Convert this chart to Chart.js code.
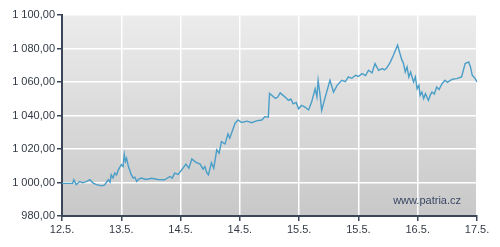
<!DOCTYPE html>
<html>
<head>
<meta charset="utf-8">
<script src="https://cdn.jsdelivr.net/npm/chart.js@4"></script>
<style>
  html, body { margin: 0; padding: 0; background: #fff; }
  #wrap { width: 500px; height: 247px; }
</style>
</head>
<body>
<div id="wrap"><canvas id="chart"></canvas></div>
<script>
// x = days since start of 12.5.
const days = [0, 0.18, 0.20, 0.24, 0.30, 0.35, 0.41, 0.47, 0.52, 0.58, 0.67, 0.72, 0.78, 0.81, 0.83, 0.86,
    0.89, 0.92, 0.95, 1.00, 1.03, 1.05, 1.07, 1.09, 1.12, 1.14, 1.17, 1.20, 1.23, 1.26, 1.30, 1.34, 1.42,
    1.51, 1.62, 1.73, 1.82, 1.86, 1.90, 1.96, 2.02, 2.09, 2.14, 2.19, 2.26, 2.33, 2.38, 2.41, 2.44, 2.47,
    2.52, 2.56, 2.61, 2.65, 2.69, 2.75, 2.80, 2.83, 2.88, 2.92, 2.97, 3.03, 3.12, 3.20, 3.28, 3.37, 3.42,
    3.48, 3.50, 3.54, 3.60, 3.64, 3.68, 3.73, 3.78, 3.82, 3.86, 3.90, 3.95, 3.99, 4.04, 4.10, 4.16, 4.21,
    4.27, 4.30, 4.32, 4.35, 4.38, 4.44, 4.52, 4.58, 4.64, 4.72, 4.78, 4.83, 4.89, 4.95, 5.00, 5.06, 5.12,
    5.17, 5.23, 5.28, 5.34, 5.40, 5.44, 5.48, 5.54, 5.59, 5.66, 5.70, 5.73, 5.76, 5.79, 5.82, 5.85, 5.88,
    5.93, 5.96, 5.99, 6.02, 6.04, 6.07, 6.10, 6.13, 6.18, 6.21, 6.24, 6.28, 6.32, 6.36, 6.41, 6.46, 6.50,
    6.55, 6.60, 6.66, 6.74, 6.80, 6.86, 6.89, 6.92, 6.97, 7.00];
const values = [999.5, 999.5, 1001.6, 998.7, 1000.6, 999.8, 1000.5, 1001.7, 999.8, 998.7, 998, 998.5,
    1001.6, 1000.2, 1004.6, 1002.8, 1005.6, 1004.5, 1007.6, 1010.6, 1009.5, 1016.8, 1012.5, 1014.5, 1009.5,
    1007.6, 1004.5, 1002.7, 1003.2, 1000.6, 1002.2, 1002.7, 1001.8, 1002.5, 1001.8, 1001.6, 1003.6, 1002.6,
    1005.6, 1004.8, 1007.6, 1011, 1008.5, 1014, 1012, 1011, 1008, 1009.5, 1006, 1004.6, 1011.8, 1008.5,
    1019.5, 1017.5, 1024.4, 1023, 1029, 1026.5, 1031.5, 1035.4, 1037.3, 1035.8, 1036.6, 1035.7, 1036.8,
    1037.3, 1039.3, 1039, 1053.2, 1052, 1050.2, 1051, 1053.5, 1052, 1050.5, 1049, 1049.8, 1047, 1047.8,
    1044, 1046, 1045, 1043.3, 1048, 1056, 1051, 1061, 1053, 1043, 1051, 1061, 1054, 1058, 1061, 1060.2,
    1063, 1062.2, 1064, 1063.3, 1065, 1063.8, 1067, 1065.5, 1071, 1067, 1068, 1067.2, 1068.5, 1072, 1076,
    1082, 1077, 1073.5, 1071, 1066, 1069, 1063, 1066, 1060, 1063, 1056, 1058, 1052, 1054, 1050, 1053, 1049,
    1052, 1054, 1052.8, 1057, 1055.5, 1059, 1061, 1059.8, 1061, 1061.8, 1062, 1063, 1071, 1072, 1069,
    1064, 1062, 1060];
const xTickLabels = ["12.5.", "13.5.", "14.5.", "14.5.", "15.5.", "15.5.", "16.5.", "17.5."];
const watermark = "www.patria.cz";

const axisColor = "#3b4759";
const font = { family: "'Liberation Sans', Arial, sans-serif", size: 11 };

const plotBackground = {
    id: "plotBackground",
    beforeDraw(chart) {
        const { ctx, chartArea: a } = chart;
        const g = ctx.createLinearGradient(0, a.top, 0, a.bottom);
        g.addColorStop(0, "#ececec");
        g.addColorStop(1, "#c8c8c8");
        ctx.save();
        ctx.fillStyle = g;
        ctx.fillRect(a.left, a.top, a.right - a.left, a.bottom - a.top);
        ctx.restore();
    },
    afterDatasetsDraw(chart) {
        const { ctx, chartArea: a } = chart;
        ctx.save();
        ctx.font = "11px " + font.family;
        ctx.fillStyle = "#3a4766";
        ctx.textAlign = "right";
        ctx.textBaseline = "middle";
        ctx.fillText(watermark, a.right - 16, a.bottom - 15);
        ctx.restore();
    }
};

const fmt = v => {
    const s = v.toFixed(2).replace(".", ",");
    const [i, d] = s.split(",");
    return i.replace(/\B(?=(\d{3})+(?!\d))/g, " ") + "," + d;
};

new Chart(document.getElementById("chart"), {
    type: "line",
    data: {
        datasets: [{
            data: days.map((d, i) => ({ x: d, y: values[i] })),
            borderColor: "#4a9ec8",
            borderWidth: 1.4,
            pointRadius: 0,
            tension: 0,
            fill: false
        }]
    },
    options: {
        responsive: true,
        maintainAspectRatio: false,
        animation: false,
        layout: { padding: { top: 15, right: 23, left: 0, bottom: 0 } },
        plugins: { legend: { display: false }, tooltip: { enabled: false } },
        scales: {
            x: {
                type: "linear",
                min: 0,
                max: 7,
                afterFit: s => { s.height = 31; },
                grid: { color: "#ffffff", lineWidth: 1.5, tickColor: axisColor, tickLength: 5 },
                border: { color: axisColor, width: 2 },
                ticks: {
                    stepSize: 1,
                    color: "#333a45",
                    font: font,
                    padding: 2,
                    maxRotation: 0,
                    callback: (v) => xTickLabels[v] ?? ""
                }
            },
            y: {
                min: 980,
                max: 1100,
                afterFit: s => { s.width = 62; },
                grid: { color: "#ffffff", lineWidth: 1.5, tickColor: axisColor, tickLength: 5 },
                border: { color: axisColor, width: 2 },
                ticks: {
                    stepSize: 20,
                    color: "#333a45",
                    font: font,
                    padding: 2,
                    callback: v => fmt(v)
                }
            }
        }
    },
    plugins: [plotBackground]
});
</script>
</body>
</html>
